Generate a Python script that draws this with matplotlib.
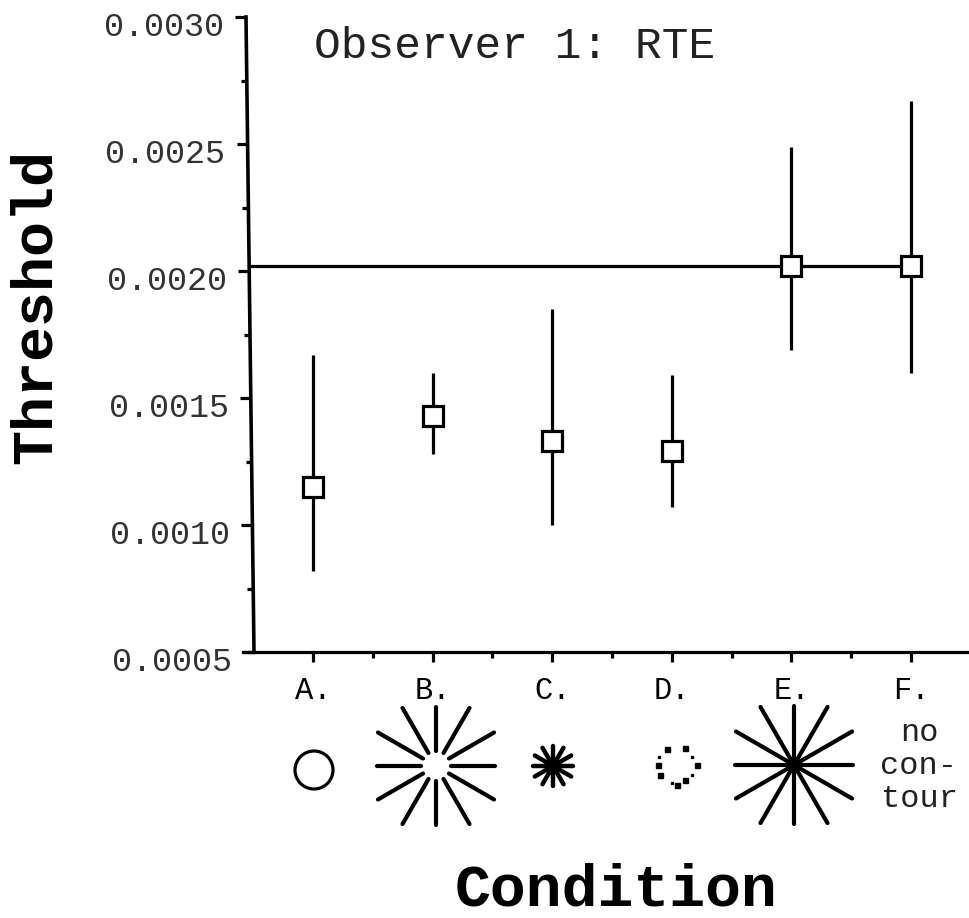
import matplotlib
matplotlib.use('Agg')
import matplotlib.pyplot as plt
from matplotlib.patches import Circle
from matplotlib.transforms import Affine2D
import numpy as np

plt.rcParams['font.family'] = ['Liberation Mono', 'DejaVu Sans Mono']

W, H = 969, 918

conditions = ['A.', 'B.', 'C.', 'D.', 'E.', 'F.']
x_pos = [1, 2, 3, 4, 5, 6]
threshold = [0.00115, 0.00143, 0.00133, 0.00129, 0.00202, 0.00202]
err_low = [0.00082, 0.00128, 0.00100, 0.00107, 0.00169, 0.00160]
err_high = [0.00167, 0.00160, 0.00185, 0.00159, 0.00249, 0.00267]
baseline = 0.00202
y_ticks = [0.0005, 0.0010, 0.0015, 0.0020, 0.0025, 0.0030]
y_labels = ['0.0005', '0.0010', '0.0015', '0.0020', '0.0025', '0.0030']
y_minor = [0.00075, 0.00125, 0.00175, 0.00225, 0.00275]

lw = 2.3

fig = plt.figure(figsize=(W / 100, H / 100), dpi=100)
left, right, top, bottom = 250, 969, 17, 652
ax = fig.add_axes([left / W, 1 - bottom / H, (right - left) / W, (bottom - top) / H])

x0 = 1 - (313 - left) / 119.6
ax.set_xlim(x0, x0 + (right - left) / 119.6)
ax.set_ylim(0.0005, 0.0030)

ax.plot([x0, 6], [baseline, baseline], color='black', lw=lw, zorder=1)
ax.vlines(x_pos, err_low, err_high, color='black', lw=lw, zorder=2)
ax.plot(x_pos, threshold, 's', ms=14.4, mfc='white', mec='black', mew=2.3, zorder=3)

for s in ['top', 'right', 'left']:
    ax.spines[s].set_visible(False)
ax.spines['bottom'].set_linewidth(lw)

ax.set_xticks(x_pos)
ax.set_xticklabels(conditions, fontsize=22)
ax.set_xticks([1.5, 2.5, 3.5, 4.5, 5.5], minor=True)
ax.set_yticks(y_ticks)
ax.set_yticklabels(y_labels, fontsize=24, color='#333333')
ax.set_yticks(y_minor, minor=True)
ax.tick_params(axis='x', which='major', length=7, width=lw, pad=10)
ax.tick_params(axis='x', which='minor', length=4, width=lw)
ax.tick_params(axis='y', which='major', length=8, width=lw, pad=8)
ax.tick_params(axis='y', which='minor', length=4, width=lw)


# the y axis leans in the scan: 246 px at the top, 254 px at the bottom
def lean(value):
    frac = (value - 0.0005) / 0.0025
    return 254 - 8 * frac - left


for tick, value in zip(ax.yaxis.get_major_ticks(), y_ticks):
    shift = Affine2D().translate(lean(value), 0)
    tick.tick1line.set_transform(tick.tick1line.get_transform() + shift)
    tick.label1.set_transform(tick.label1.get_transform() + Affine2D().translate(lean(value), -7))
for tick, value in zip(ax.yaxis.get_minor_ticks(), y_minor):
    tick.tick1line.set_transform(tick.tick1line.get_transform() + Affine2D().translate(lean(value), 0))

fig.text(314 / W, 1 - 47 / H, 'Observer 1: RTE', fontsize=32, va='center', ha='left', color='#222222')
fig.text(36 / W, 1 - 307 / H, 'Threshold', fontsize=42, fontweight='bold', rotation=90, va='center', ha='center')
fig.text(616 / W, 1 - 890 / H, 'Condition', fontsize=43, fontweight='bold', va='center', ha='center')
fig.text(919 / W, 1 - 766 / H, 'no\ncon-\ntour', fontsize=23, va='center', ha='center', linespacing=1.15,
         color='#222222')

# contour icons under the axis, in pixel coordinates
ov = fig.add_axes([0, 0, 1, 1], facecolor='none')
ov.set_xlim(0, W)
ov.set_ylim(H, 0)
ov.axis('off')

ov.plot([246, 254], [17, 652], color='black', lw=2.6)
ov.plot([243, 254], [652, 652], color='black', lw=lw)

ov.add_patch(Circle((314, 770), 19, fill=False, ec='black', lw=lw))


def spokes(cx, cy, inner, outer_axis, outer_diag, width):
    for deg in range(0, 360, 30):
        a = np.radians(deg)
        r = outer_axis if deg % 90 == 0 else outer_diag
        ov.plot([cx + inner * np.cos(a), cx + r * np.cos(a)],
                [cy + inner * np.sin(a), cy + r * np.sin(a)],
                color='black', lw=width, solid_capstyle='round')


spokes(436, 766, 15, 59, 67, 3)
spokes(553, 766, 0, 20, 21, 3.2)
spokes(794, 765, 0, 59, 67, 3)
ov.add_patch(Circle((794, 765), 7, color='black'))
ov.add_patch(Circle((553, 766), 8, color='black'))

big_dots = [(667, 749), (685, 748), (658, 765), (697, 765), (660, 775), (685, 780), (677, 785)]
small_dots = [(659, 757), (692, 757), (692, 775), (672, 783)]
ov.plot(*zip(*big_dots), 's', color='black', ms=3.6)
ov.plot(*zip(*small_dots), 's', color='black', ms=1.4)

fig.savefig('out.png', dpi=100)
